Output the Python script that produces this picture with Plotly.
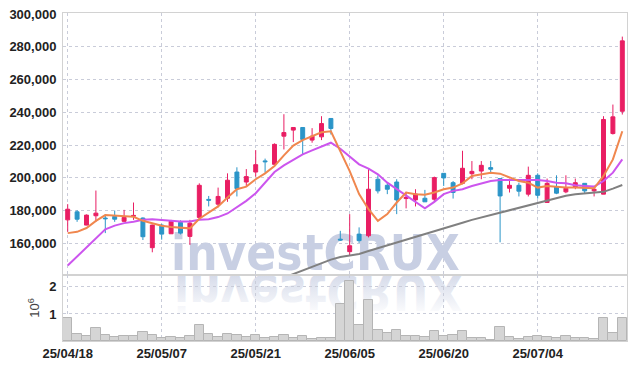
import base64
import plotly.graph_objects as go

dates = ["25/04/18", "25/04/21", "25/04/22", "25/04/23", "25/04/24", "25/04/25", "25/04/28", "25/04/29", "25/04/30",
         "25/05/02", "25/05/07", "25/05/08", "25/05/09", "25/05/12", "25/05/13", "25/05/14", "25/05/15", "25/05/16",
         "25/05/19", "25/05/20", "25/05/21", "25/05/22", "25/05/23", "25/05/26", "25/05/27", "25/05/28", "25/05/29",
         "25/05/30", "25/06/02", "25/06/04", "25/06/05", "25/06/09", "25/06/10", "25/06/11", "25/06/12", "25/06/13",
         "25/06/16", "25/06/17", "25/06/18", "25/06/19", "25/06/20", "25/06/23", "25/06/24", "25/06/25", "25/06/26",
         "25/06/27", "25/06/30", "25/07/01", "25/07/02", "25/07/03", "25/07/04", "25/07/07", "25/07/08", "25/07/09",
         "25/07/10", "25/07/11", "25/07/14", "25/07/15", "25/07/16", "25/07/17"]

opens = [174300, 179200, 171100, 176800, 175400, 176400, 173400, 176500, 175400, 157300,
         171100, 165800, 172700, 164200, 175800, 186800, 183900, 187500, 203500, 197400,
         203500, 210300, 208200, 225400, 229100, 230700, 223000, 225000, 236200, 162500,
         154900, 165600, 164600, 199100, 195400, 197400, 187300, 186500, 187500, 186900,
         202700, 197000, 196600, 202500, 204100, 206200, 199500, 193600, 195400, 190000,
         201500, 184900, 194600, 191400, 194400, 196600, 192000, 190000, 227000, 240600]
highs = [183900, 180200, 177600, 192200, 177600, 180000, 180400, 184900, 175800, 171400,
         171900, 174300, 174000, 174300, 196600, 188900, 194000, 202700, 206400, 205300,
         216900, 211700, 221000, 238800, 230800, 230700, 230300, 237600, 236200, 167600,
         177800, 169700, 205600, 201500, 197000, 199100, 191400, 193000, 192600, 200700,
         202700, 198000, 216500, 210200, 210200, 210200, 199500, 199500, 197000, 206800,
         202700, 199500, 201500, 201500, 199500, 196600, 194600, 237600, 244700, 286200]
lows = [167000, 173100, 171000, 173100, 166200, 173100, 173100, 174300, 162000, 154500,
        162200, 165800, 165400, 159000, 175800, 182500, 181900, 185300, 188600, 194600,
        200700, 203100, 206600, 217300, 221800, 214300, 221400, 223000, 226400, 161500,
        152400, 160200, 163600, 190400, 190000, 177800, 181300, 182500, 185300, 185300,
        195000, 187300, 196000, 199100, 199100, 203100, 160600, 191000, 188600, 188600,
        187300, 184900, 190000, 190600, 193000, 190600, 188600, 190000, 226400, 238600]
closes = [180800, 174700, 177200, 178400, 175000, 174700, 175800, 177000, 164000, 171100,
          165600, 173400, 166200, 172300, 195400, 186300, 188600, 198500, 193400, 200700,
          208000, 209800, 220400, 227600, 230700, 223400, 225400, 233100, 230100, 162000,
          158500, 161600, 193000, 192000, 193000, 186500, 188100, 190100, 185300, 200100,
          199900, 191000, 205800, 203900, 207600, 205200, 188900, 195400, 191800, 201500,
          189300, 196600, 190600, 193600, 197000, 192000, 193000, 235600, 237200, 283600]

ma5 = [166200, 167000, 169300, 173700, 177200, 176800, 176400, 176200, 173700, 172300,
       170700, 169900, 169500, 169100, 175000, 178800, 182500, 188000, 193000, 194600,
       199100, 202700, 207200, 213700, 219700, 223000, 225400, 227800, 228400, 216000,
       204100, 190000, 180800, 173700, 177800, 184900, 191000, 190000, 189600, 191000,
       193000, 194000, 196600, 201100, 202100, 203100, 202500, 200100, 198000, 197000,
       194000, 195000, 194400, 194000, 194000, 193600, 193600, 201100, 211200, 228400]
ma20 = [146400, 152000, 157500, 163000, 168500, 170800, 172300, 173100, 174300, 174700,
        174100, 173700, 173300, 173300, 174300, 174700, 176000, 178200, 181900, 185900,
        190600, 197000, 203500, 207600, 211200, 214300, 216700, 219000, 221400, 217700,
        213200, 208200, 205600, 202100, 197000, 193000, 188900, 184900, 181300, 185300,
        190000, 192000, 193000, 195000, 196600, 198000, 198700, 198700, 198700, 199100,
        198700, 198000, 197000, 196600, 195400, 195000, 194600, 198000, 203100, 211200]
ma60 = [None] * 23 + [139000, 141200, 143500, 145600, 147800, 150000, 151600, 152600, 153500,
                      155300, 157000, 158800, 160600, 162100, 163600, 165300, 167000, 168800,
                      170700, 172500, 174300, 175800, 177300, 178800, 180300, 181900, 183400,
                      184900, 186400, 187900, 189000, 190000, 190500, 191000, 191400, 193400,
                      195600]

volumes = [860000, 260000, 190000, 480000, 220000, 150000, 190000, 190000, 340000, 220000,
           110000, 150000, 110000, 190000, 600000, 260000, 150000, 260000, 220000, 150000,
           220000, 110000, 150000, 220000, 110000, 190000, 70000, 110000, 110000, 1380000,
           2210000, 610000, 1500000, 410000, 290000, 410000, 200000, 200000, 150000, 370000,
           190000, 240000, 370000, 110000, 110000, 50000, 520000, 150000, 70000, 150000,
           190000, 150000, 110000, 190000, 110000, 110000, 70000, 860000, 310000, 860000]

price_ticks = [160000, 180000, 200000, 220000, 240000, 260000, 280000, 300000]
volume_ticks = [1000000, 2000000]
volume_tick_labels = ["1", "2"]
watermark = "investCRUX"

UP = "#e91e63"
DOWN = "#2b95c8"
GRID = "#c9ccd9"
AXLINE = "#d2d2d2"
WM = "#c8cfe3"
WM_FONT = "DejaVu Sans Condensed, DejaVu Sans, sans-serif"
TICK_FONT = "Liberation Sans, Arial, sans-serif"

# the page body adds an 8px offset, so margins are reduced accordingly
W, H = 637, 369
ML, MR, MT, MB = 55, 18, 5, 36
PW, PH = W - ML - MR, H - MT - MB
split = 66 / PH
price_range = [140630, 300610]

fig = go.Figure()

# watermark on the base subplot (drawn below the overlaid price traces)
wm_size = 49
fig.add_trace(go.Scatter(x=[dates[11]], y=[151100], mode="text", text=[watermark],
                         textposition="middle right",
                         textfont=dict(family=WM_FONT, size=wm_size, color=WM, weight="bold"),
                         hoverinfo="skip", showlegend=False, xaxis="x", yaxis="y"))

fig.add_trace(go.Candlestick(x=dates, open=opens, high=highs, low=lows, close=closes,
                             increasing=dict(line=dict(color=UP, width=1), fillcolor=UP),
                             decreasing=dict(line=dict(color=DOWN, width=1), fillcolor=DOWN),
                             whiskerwidth=0, showlegend=False, xaxis="x", yaxis="y3"))
fig.add_trace(go.Scatter(x=dates, y=ma60, mode="lines", line=dict(color="#808080", width=2),
                         showlegend=False, xaxis="x", yaxis="y3"))
fig.add_trace(go.Scatter(x=dates, y=ma20, mode="lines", line=dict(color="#cc55ee", width=2),
                         showlegend=False, xaxis="x", yaxis="y3"))
fig.add_trace(go.Scatter(x=dates, y=ma5, mode="lines", line=dict(color="#f0874e", width=2),
                         showlegend=False, xaxis="x", yaxis="y3"))

fig.add_trace(go.Bar(x=dates, y=volumes, marker=dict(color="#d5d5d5", line=dict(color="#b5b5b5", width=1)),
                     showlegend=False, xaxis="x", yaxis="y2"))

# faded reflection of the watermark (decorative)
svg = (
    '<svg xmlns="http://www.w3.org/2000/svg" width="320" height="60" viewBox="0 0 320 60">'
    '<defs><linearGradient id="g" gradientUnits="userSpaceOnUse" x1="0" y1="0" x2="0" y2="-37">'
    f'<stop offset="0" stop-color="{WM}" stop-opacity="0.75"/>'
    f'<stop offset="1" stop-color="{WM}" stop-opacity="0.08"/>'
    '</linearGradient></defs>'
    '<g transform="scale(1,-1)">'
    f'<text x="0" y="0" font-family="{WM_FONT}" font-weight="bold" font-size="{wm_size}" fill="url(#g)">{watermark}</text>'
    '</g></svg>'
)
src = "data:image/svg+xml;base64," + base64.b64encode(svg.encode()).decode()
wm_left_px = (11.5 / 60) * PW + 3
fig.add_layout_image(dict(source=src, xref="paper", yref="paper",
                          x=wm_left_px / PW, y=split, sizex=320 / PW, sizey=60 / PH,
                          xanchor="left", yanchor="top", sizing="stretch", layer="below"))

tickfont = dict(family=TICK_FONT, size=13, color="#222222", weight="bold")

fig.update_layout(
    width=W, height=H, margin=dict(l=ML, r=MR, t=MT, b=MB, autoexpand=False),
    paper_bgcolor="white", plot_bgcolor="rgba(0,0,0,0)",
    showlegend=False, bargap=0, boxgap=0.4,
    xaxis=dict(type="category", categoryorder="array", categoryarray=dates,
               range=[-0.5, len(dates) - 0.5], domain=[0, 1], anchor="y2",
               tickvals=dates[::10], ticktext=dates[::10], tickfont=tickfont,
               showgrid=True, gridcolor=GRID, griddash="dot", gridwidth=1,
               showline=True, linecolor=AXLINE, mirror="all", ticks="", automargin=False,
               ticklabeloverflow="allow", rangeslider=dict(visible=False)),
    yaxis=dict(domain=[split, 1], range=price_range, anchor="x",
               tickvals=price_ticks, tickformat=",", tickfont=tickfont,
               showgrid=True, gridcolor=GRID, griddash="dot", gridwidth=1,
               showline=True, linecolor=AXLINE, mirror=True, zeroline=False, automargin=False,
               ticklabeloverflow="allow",
               ticks="outside", ticklen=3, tickcolor="rgba(0,0,0,0)"),
    yaxis3=dict(overlaying="y", range=price_range, visible=False, anchor="x"),
    yaxis2=dict(domain=[0, split], range=[0, 2440000], anchor="x",
                tickvals=volume_ticks, ticktext=volume_tick_labels, tickfont=tickfont,
                showgrid=True, gridcolor=GRID, griddash="dot", gridwidth=1,
                showline=True, linecolor=AXLINE, mirror=True, zeroline=False, automargin=False,
                ticklabeloverflow="allow",
                ticks="outside", ticklen=3, tickcolor="rgba(0,0,0,0)",
                title=dict(text="10<sup>6</sup>", font=dict(family="Liberation Sans, Arial, sans-serif",
                                                           size=13, color="#444444"), standoff=6)),
)

fig.write_html("out.html")
